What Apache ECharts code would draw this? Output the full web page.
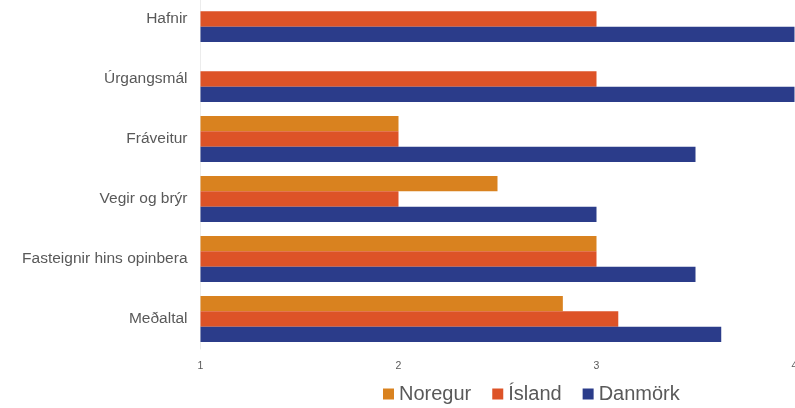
<!DOCTYPE html>
<html>
<head>
<meta charset="utf-8">
<script src="https://cdn.jsdelivr.net/npm/echarts@6/dist/echarts.min.js"></script>
<style>
html,body{margin:0;padding:0;background:#fff;}
#chart{width:795px;height:408px;}
</style>
</head>
<body>
<div id="chart"></div>
<script>
const categories = ["Hafnir", "Úrgangsmál", "Fráveitur", "Vegir og brýr", "Fasteignir hins opinbera", "Meðaltal"];
const noregur = [null, null, 2, 2.5, 3, 2.83];
const island = [3, 3, 2, 2, 3, 3.11];
const danmork = [4, 4, 3.5, 3, 3.5, 3.63];
const xTicks = [1, 2, 3, 4];

const chart = echarts.init(document.getElementById('chart'), null, {renderer: 'canvas'});
const font = "'Liberation Sans', Arial, sans-serif";
chart.setOption({
  animation: false,
  backgroundColor: '#ffffff',
  grid: {left: 200.5, right: 0.5, top: -11, bottom: 59, containLabel: false, outerBoundsMode: 'none'},
  legend: {
    left: 383, top: 384, padding: 0,
    itemWidth: 11, itemHeight: 11, itemGap: 21,
    icon: 'rect',
    textStyle: {fontSize: 20, color: '#595959', fontFamily: font},
    data: ['Noregur', 'Ísland', 'Danmörk']
  },
  xAxis: {
    type: 'value',
    min: xTicks[0], max: xTicks[xTicks.length - 1], interval: 1,
    axisLine: {show: false}, axisTick: {show: false},
    splitLine: {show: false},
    axisLabel: {fontSize: 10.5, color: '#595959', fontFamily: font, margin: 12,
      formatter: v => xTicks.includes(v) ? String(v) : ''}
  },
  yAxis: {
    type: 'category', data: categories, inverse: true,
    axisLine: {show: true, lineStyle: {color: '#ececec', width: 1}},
    axisTick: {show: false},
    axisLabel: {fontSize: 15.5, color: '#595959', fontFamily: font, margin: 13}
  },
  series: [
    {name: 'Noregur', type: 'bar', data: noregur, barGap: '0%', barCategoryGap: '23%',
      itemStyle: {color: '#d9821f'}},
    {name: 'Ísland', type: 'bar', data: island, barGap: '0%', barCategoryGap: '23%',
      itemStyle: {color: '#dd5327'}},
    {name: 'Danmörk', type: 'bar', data: danmork, barGap: '0%', barCategoryGap: '23%',
      itemStyle: {color: '#2b3c8a'}}
  ]
});
</script>
</body>
</html>
